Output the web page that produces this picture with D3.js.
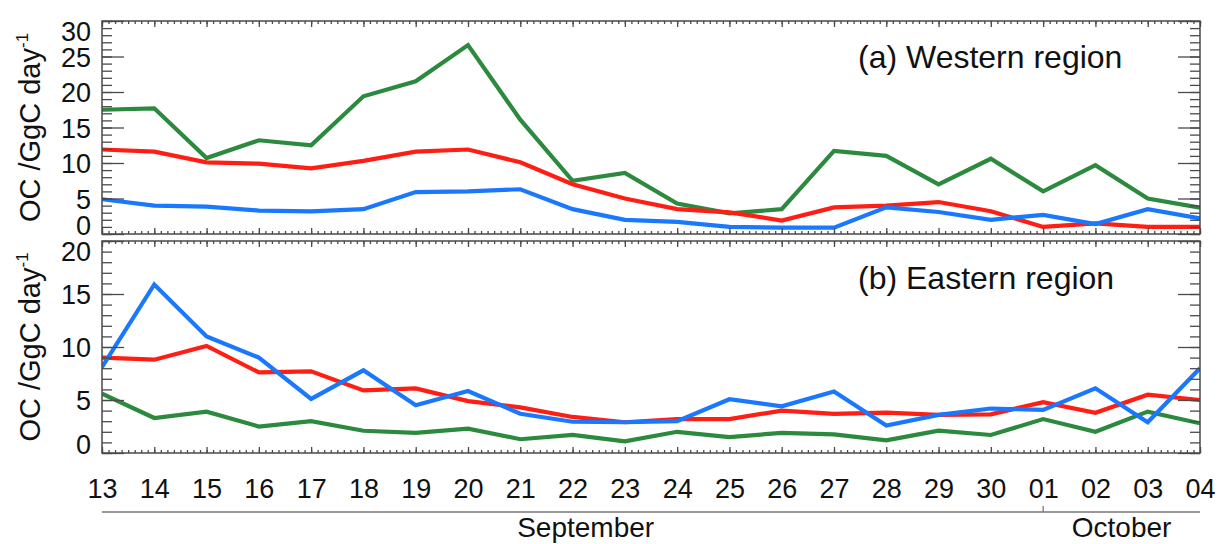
<!DOCTYPE html>
<html>
<head>
<meta charset="utf-8">
<script src="https://cdn.jsdelivr.net/npm/d3@7"></script>
<style>
  html, body { margin: 0; padding: 0; background: #fff; }
  svg { display: block; font-family: "Liberation Sans", Arial, Helvetica, sans-serif; }
</style>
</head>
<body>
<svg id="chart" width="1220" height="544"></svg>
<script>
// Daily OC emissions, 13 September – 04 October
const days = ["13","14","15","16","17","18","19","20","21","22","23","24","25","26","27","28","29","30","01","02","03","04"];

// (a) Western region
const westGreen = [17.5, 17.7, 10.7, 13.2, 12.5, 19.4, 21.5, 26.6, 16.1, 7.5, 8.6, 4.3, 2.9, 3.5, 11.7, 11.0, 7.0, 10.6, 6.0, 9.7, 5.0, 3.7];
const westRed   = [11.9, 11.6, 10.1, 9.9, 9.25, 10.3, 11.6, 11.9, 10.1, 7.0, 5.0, 3.5, 3.05, 1.9, 3.75, 4.0, 4.5, 3.2, 1.0, 1.5, 1.0, 1.0];
const westBlue  = [4.9, 4.0, 3.85, 3.3, 3.2, 3.5, 5.9, 6.0, 6.3, 3.5, 2.0, 1.7, 1.0, 0.9, 0.9, 3.75, 3.1, 2.0, 2.7, 1.4, 3.5, 2.2];

// (b) Eastern region
const eastGreen = [5.6, 3.3, 3.9, 2.5, 3.0, 2.1, 1.9, 2.3, 1.3, 1.7, 1.1, 2.0, 1.5, 1.9, 1.75, 1.2, 2.1, 1.7, 3.2, 2.0, 3.9, 2.8];
const eastRed   = [9.0, 8.8, 10.1, 7.6, 7.7, 5.9, 6.1, 4.9, 4.3, 3.4, 2.9, 3.2, 3.2, 4.0, 3.7, 3.8, 3.6, 3.65, 4.8, 3.8, 5.5, 5.0];
const eastBlue  = [8.1, 15.9, 11.0, 9.0, 5.1, 7.8, 4.5, 5.85, 3.7, 2.95, 2.9, 3.0, 5.07, 4.4, 5.8, 2.6, 3.6, 4.2, 4.06, 6.1, 2.9, 8.0];

const westTicks = [0, 5, 10, 15, 20, 25, 30];
const eastTicks = [0, 5, 10, 15, 20];

const months = ["September", "October"];
const monthCenters = [9.25, 19.5];   // label positions in day-index units
const monthBreak = 18;               // index of 01 October

const colors = { green: "#2b8a3e", red: "#ff1e14", blue: "#1a78ff" };

const svg = d3.select("#chart");
const left = 102, right = 1200;

const x = d3.scaleLinear().domain([0, days.length - 1]).range([left, right]);

const panels = [
  { top: 21, bottom: 234, max: 30, ticks: westTicks, title: "(a) Western region", titleY: 68,
    series: [[westGreen, colors.green], [westRed, colors.red], [westBlue, colors.blue]] },
  { top: 241, bottom: 453, max: 20, ticks: eastTicks, title: "(b) Eastern region", titleY: 289,
    series: [[eastGreen, colors.green], [eastRed, colors.red], [eastBlue, colors.blue]] }
];

const frameColor = "#4a4a4a";
const tickFont = 27;

panels.forEach((p, pi) => {
  const y = d3.scaleLinear().domain([0, p.max]).range([p.bottom, p.top]);
  const g = svg.append("g");

  // clip so thick lines stay inside the frame
  const clipId = "clip" + pi;
  svg.append("clipPath").attr("id", clipId)
    .append("rect").attr("x", left).attr("y", p.top)
    .attr("width", right - left).attr("height", p.bottom - p.top);

  // data lines
  const line = d3.line().x((d, i) => x(i)).y(d => y(d));
  const lines = g.append("g").attr("clip-path", `url(#${clipId})`);
  p.series.forEach(([vals, col]) => {
    lines.append("path").datum(vals)
      .attr("d", line)
      .attr("fill", "none")
      .attr("stroke", col)
      .attr("stroke-width", 4.2)
      .attr("stroke-linejoin", "miter");
  });

  // minor y ticks (every unit), inward on both sides
  const minorVals = d3.range(0, p.max + 1);
  const styleAxis = sel => {
    sel.select(".domain").remove();
    sel.selectAll("line").attr("stroke", frameColor).attr("stroke-width", 1.3);
  };
  g.append("g").attr("transform", `translate(${left},0)`)
    .call(d3.axisLeft(y).tickValues(minorVals).tickSize(-10).tickFormat(""))
    .call(styleAxis);
  g.append("g").attr("transform", `translate(${right},0)`)
    .call(d3.axisRight(y).tickValues(minorVals).tickSize(-10).tickFormat(""))
    .call(styleAxis);

  // major y ticks with labels
  const yAxis = g.append("g").attr("transform", `translate(${left},0)`)
    .call(d3.axisLeft(y).tickValues(p.ticks).tickSize(-22).tickPadding(11).tickFormat(d3.format("d")))
    .call(styleAxis);
  yAxis.selectAll("text")
    .attr("font-size", tickFont)
    .attr("font-family", "Liberation Sans, Arial, sans-serif")
    .attr("fill", "#111")
    .attr("dy", d => {
      // keep end labels within the panel's height
      const half = 9.6;
      const yy = y(d);
      let shift = 0;
      if (yy - half < p.top) shift = p.top + half - yy;
      if (yy + half > p.bottom) shift = p.bottom - half - yy;
      return (shift + 0.36 * tickFont) + "px";
    });
  g.append("g").attr("transform", `translate(${right},0)`)
    .call(d3.axisRight(y).tickValues(p.ticks).tickSize(-22).tickFormat(""))
    .call(styleAxis);

  // x ticks on top and bottom edges of each panel
  const minorX = d3.range(0, days.length - 1 + 1e-9, 1 / 8);
  g.append("g").attr("transform", `translate(0,${p.bottom})`)
    .call(d3.axisBottom(x).tickValues(minorX).tickSize(-3).tickFormat(""))
    .call(styleAxis);
  g.append("g").attr("transform", `translate(0,${p.top})`)
    .call(d3.axisTop(x).tickValues(minorX).tickSize(-3).tickFormat(""))
    .call(styleAxis);
  g.append("g").attr("transform", `translate(0,${p.top})`)
    .call(d3.axisTop(x).tickValues(d3.range(days.length)).tickSize(-6).tickFormat(""))
    .call(styleAxis);
  const xAxis = g.append("g").attr("transform", `translate(0,${p.bottom})`)
    .call(d3.axisBottom(x).tickValues(d3.range(days.length)).tickSize(-6).tickPadding(26)
      .tickFormat(i => (pi === panels.length - 1 ? days[i] : "")))
    .call(styleAxis);
  xAxis.selectAll("text")
    .attr("font-size", tickFont)
    .attr("font-family", "Liberation Sans, Arial, sans-serif")
    .attr("fill", "#111");

  // frame
  g.append("rect")
    .attr("x", left).attr("y", p.top)
    .attr("width", right - left).attr("height", p.bottom - p.top)
    .attr("fill", "none").attr("stroke", frameColor).attr("stroke-width", 1.5);

  // panel title
  g.append("text")
    .attr("x", 858).attr("y", p.titleY)
    .attr("font-size", 32).attr("fill", "#111")
    .text(p.title);

  // y-axis title
  const cy = (p.top + p.bottom) / 2;
  const t = g.append("text")
    .attr("transform", `translate(40,${cy}) rotate(-90)`)
    .attr("text-anchor", "middle")
    .attr("font-size", 29).attr("fill", "#111");
  t.append("tspan").text("OC /GgC day");
  t.append("tspan").attr("font-size", 17).attr("dy", -12).text("-1");
});

// month bracket below the date labels
const monthY = 512;
const mg = svg.append("g");
mg.append("line")
  .attr("x1", x(0)).attr("x2", x(days.length - 1))
  .attr("y1", monthY).attr("y2", monthY)
  .attr("stroke", "#777").attr("stroke-width", 1.6);
mg.append("line")
  .attr("x1", x(monthBreak)).attr("x2", x(monthBreak))
  .attr("y1", monthY).attr("y2", monthY - 6)
  .attr("stroke", "#777").attr("stroke-width", 1.3);
mg.selectAll("text.month").data(months).join("text")
  .attr("class", "month")
  .attr("x", (d, i) => x(monthCenters[i]))
  .attr("y", 537)
  .attr("text-anchor", "middle")
  .attr("font-size", 28).attr("fill", "#111")
  .text(d => d);
</script>
</body>
</html>
